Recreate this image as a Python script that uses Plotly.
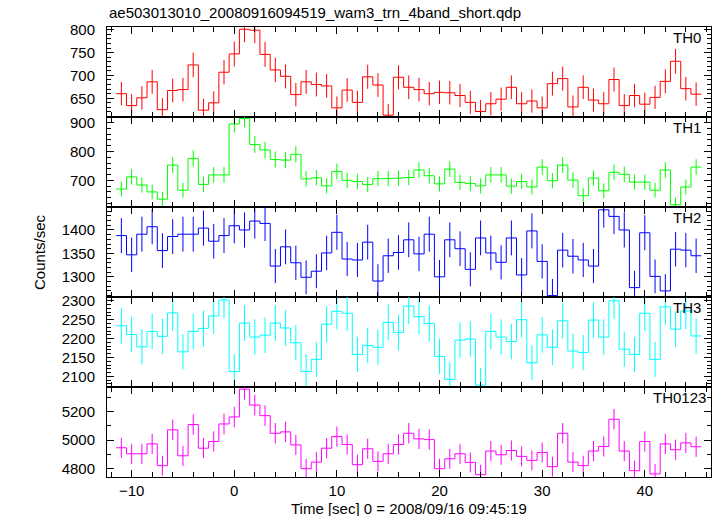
import numpy as np
import plotly.graph_objects as go
from plotly.subplots import make_subplots

TITLE = "ae503013010_20080916094519_wam3_trn_4band_short.qdp"
XLABEL = "Time [sec] 0 = 2008/09/16 09:45:19"
YLABEL = "Counts/sec"

TIME = [-11, -10, -9, -8, -7, -6, -5, -4, -3, -2, -1, 0, 1, 2, 3, 4, 5, 6, 7, 8,
        9, 10, 11, 12, 13, 14, 15, 16, 17, 18, 19, 20, 21, 22, 23, 24, 25, 26, 27, 28,
        29, 30, 31, 32, 33, 34, 35, 36, 37, 38, 39, 40, 41, 42, 43, 44, 45]

TH0 = [660, 634, 651, 686, 625, 667, 669, 723, 624, 640, 707, 747, 801, 799, 746, 712, 698, 658, 686, 680,
       677, 629, 668, 641, 697, 679, 613,
       696, 674, 669, 660, 663, 662, 656, 641, 621, 638, 648, 674, 638, 644, 629, 682, 693, 631, 674, 646,
       638, 691, 634, 656, 637, 652, 687, 731, 671, 659]
TH1 = [670, 712, 684, 660, 635, 753, 666, 776, 686, 719, 719, 895, 914, 824, 805, 772, 770, 790, 705, 709,
       681, 731, 700, 696, 686, 706, 706,
       708, 710, 736, 716, 688, 739, 693, 689, 681, 719, 719, 680, 696, 677, 746, 699, 753, 701, 647, 708,
       664, 728, 721, 694, 694, 666, 736, 616, 677, 746]
TH2 = [1388, 1347, 1391, 1407, 1356, 1386, 1391, 1391, 1404, 1376, 1388, 1409, 1400, 1419, 1414, 1323,
       1364, 1330, 1299, 1312, 1351, 1395, 1338, 1336, 1374, 1291, 1345,
       1352, 1379, 1349, 1391, 1300, 1379, 1360, 1316, 1383, 1351, 1331, 1383, 1304, 1398, 1333, 1260,
       1357, 1344, 1336, 1323, 1443, 1429, 1400, 1277, 1394, 1301, 1270, 1359, 1357, 1345]
TH3 = [2234, 2211, 2178, 2219, 2206, 2268, 2165, 2219, 2227, 2260, 2302, 2113, 2241, 2204, 2209, 2241,
       2228, 2189, 2113, 2145, 2238, 2272, 2267, 2158, 2182, 2177, 2243,
       2216, 2286, 2258, 2240, 2153, 2092, 2196, 2199, 2077, 2219, 2204, 2192, 2250, 2136, 2210, 2177,
       2247, 2167, 2163, 2249, 2204, 2300, 2172, 2158, 2267, 2145, 2284, 2225, 2273, 2207]
TH0123 = [4946, 4904, 4904, 4973, 4821, 5071, 4890, 5108, 4943, 4990, 5112, 5161, 5355, 5244, 5170, 5047,
          5057, 4966, 4800, 4846, 4943, 5024, 4969, 4828, 4939, 4851, 4904,
          4969, 5047, 5008, 5003, 4800, 4869, 4904, 4844, 4758, 4923, 4897, 4927, 4886, 4858, 4913, 4814,
          5047, 4846, 4821, 4923, 4955, 5145, 4923, 4786, 4990, 4763, 4973, 4932, 4980, 4953]

PANELS = ["TH0", "TH1", "TH2", "TH3", "TH0123"]
SERIES = [TH0, TH1, TH2, TH3, TH0123]
COLORS = ["#ff0000", "#00ff00", "#0000ff", "#00ffff", "#ff00ff"]
YRANGES = [[609, 806], [608, 919], [1257, 1449], [2072, 2310], [4742, 5370]]
YDTICK = [50, 100, 50, 50, 200]
YMINOR = [10, 20, 10, 10, 100]
LABEL_SHIFT = [-8, -8, -8, -8, -3]

FONT = "Liberation Sans, Arial, Helvetica, sans-serif"

fig = make_subplots(rows=5, cols=1, shared_xaxes=True, vertical_spacing=0)

t = np.array(TIME, dtype=float)
edges = np.concatenate([t - 0.5, [t[-1] + 0.5]])
for i, (vals, col) in enumerate(zip(SERIES, COLORS)):
    v = np.array(vals, dtype=float)
    err = np.sqrt(v)  # Poisson error for 1-s bins
    fig.add_trace(go.Scatter(x=edges, y=np.concatenate([v, [v[-1]]]), mode="lines",
                             line=dict(color=col, width=1, shape="hv"), hoverinfo="skip",
                             showlegend=False), row=i + 1, col=1)
    fig.add_trace(go.Scatter(x=t, y=v, mode="markers", marker=dict(size=0.1, color=col, opacity=0),
                             error_y=dict(type="data", array=err, visible=True, color=col,
                                          thickness=1, width=0),
                             showlegend=False), row=i + 1, col=1)

for i in range(5):
    fig.update_yaxes(row=i + 1, col=1, range=YRANGES[i], dtick=YDTICK[i], tick0=0,
                     showline=True, linecolor="black", linewidth=1, mirror="allticks",
                     ticks="inside", ticklen=7, tickcolor="black", showgrid=False, zeroline=False,
                     tickfont=dict(family=FONT, size=15, color="black"), ticklabelstandoff=8,
                     minor=dict(dtick=YMINOR[i], ticks="inside", ticklen=4, tickcolor="black",
                                showgrid=False))
    fig.update_xaxes(row=i + 1, col=1, range=[-12.4, 46.45], dtick=10, tick0=0,
                     showline=True, linecolor="black", linewidth=1, mirror="allticks",
                     ticks="inside", ticklen=7, tickcolor="black", showgrid=False, zeroline=False,
                     tickfont=dict(family=FONT, size=15, color="black"), ticklabelstandoff=0,
                     minor=dict(dtick=2, ticks="inside", ticklen=5, tickcolor="black",
                                showgrid=False))
    yref = "y domain" if i == 0 else f"y{i + 1} domain"
    fig.add_annotation(text=PANELS[i], xref="paper", yref=yref, x=1, y=1,
                       xanchor="right", yanchor="top", xshift=LABEL_SHIFT[i], yshift=0,
                       showarrow=False, font=dict(family=FONT, size=15, color="black"))

fig.add_annotation(text=TITLE, xref="paper", yref="paper", x=0, y=1, xanchor="left",
                   yanchor="middle", yshift=15, showarrow=False,
                   font=dict(family=FONT, size=15, color="black"))
fig.add_annotation(text=XLABEL, xref="paper", yref="paper", x=0.5, y=0, xanchor="center",
                   yanchor="middle", yshift=-31, showarrow=False,
                   font=dict(family=FONT, size=15, color="black"))
fig.add_annotation(text=YLABEL, xref="paper", yref="paper", x=0, y=0.5, xanchor="center",
                   yanchor="middle", xshift=-68, textangle=-90, showarrow=False,
                   font=dict(family=FONT, size=15, color="black"))

fig.update_layout(width=717, height=516, margin=dict(l=107, r=6, t=27, b=39),
                  paper_bgcolor="white", plot_bgcolor="white", showlegend=False,
                  font=dict(family=FONT, size=15, color="black"))

fig.write_html("out.html", config={"displayModeBar": False},
               post_script="document.body.style.margin='0';")
